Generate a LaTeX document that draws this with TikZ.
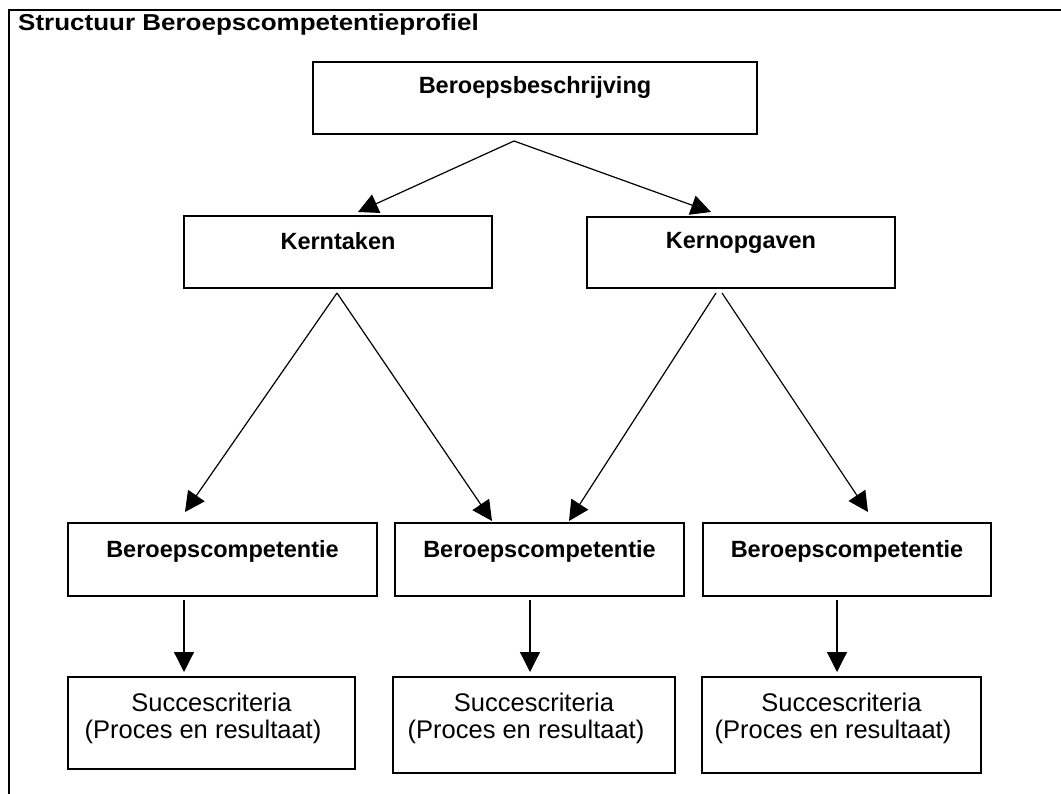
\documentclass[tikz,border=0pt]{standalone}
\usepackage{fontspec}
\setmainfont{Liberation Sans}
\usetikzlibrary{arrows.meta}
\begin{document}
\begin{tikzpicture}[x=1pt,y=-1pt,
  box/.style={draw=black, line width=1.4pt, inner sep=0pt, rectangle},
  lab/.style={anchor=base, inner sep=0pt, font=\fontsize{23.5}{28}\selectfont\bfseries},
  reg/.style={anchor=base, inner sep=0pt, font=\fontsize{25.5}{30}\selectfont},
  conn/.style={draw=black, line width=1.2pt, -{Triangle[length=20pt,width=20pt]}},
  frameline/.style={draw=black, line width=1.6pt}
]
\useasboundingbox (0,0) rectangle (1061,794);
% frame
\coordinate (ftl) at (9,10);
\coordinate (ftr) at (1061,10);
\coordinate (fbl) at (9,794);
\draw[frameline] (ftr) -- (ftl) -- (fbl);
\node[anchor=base west, inner sep=0pt, font=\fontsize{23}{28}\selectfont\bfseries] (title) at (18,31) {\scalebox{1.13}[1]{Structuur Beroepscompetentieprofiel}};

% top box
\node[box, minimum width=444pt, minimum height=72pt] (bb) at (535,98) {};
\node[lab] (bbt) at (535,94) {Beroepsbeschrijving};

% second row
\node[box, minimum width=308pt, minimum height=72pt] (kt) at (338,252) {};
\node[lab] (ktt) at (338,250) {Kerntaken};
\node[box, minimum width=308pt, minimum height=71pt] (ko) at (741,252.5) {};
\node[lab] (kot) at (741,249) {Kernopgaven};

% third row
\node[box, minimum width=309pt, minimum height=73pt] (bc1) at (222.5,559.5) {};
\node[lab] (bc1t) at (222.5,557) {Beroepscompetentie};
\node[box, minimum width=289pt, minimum height=73pt] (bc2) at (539.5,559.5) {};
\node[lab] (bc2t) at (539.5,557) {Beroepscompetentie};
\node[box, minimum width=288pt, minimum height=73pt] (bc3) at (847,559.5) {};
\node[lab] (bc3t) at (847,557) {Beroepscompetentie};

% fourth row
\node[box, minimum width=287pt, minimum height=92pt] (sc1) at (211.5,723) {};
\node[reg] (sc1a) at (211.5,711) {Succescriteria};
\node[reg] (sc1b) at (203,738) {(Proces en resultaat)};
\node[box, minimum width=282pt, minimum height=96pt] (sc2) at (534,725) {};
\node[reg] (sc2a) at (534,711) {Succescriteria};
\node[reg] (sc2b) at (526,738) {(Proces en resultaat)};
\node[box, minimum width=279pt, minimum height=96pt] (sc3) at (841.5,725) {};
\node[reg] (sc3a) at (841.5,711) {Succescriteria};
\node[reg] (sc3b) at (833,738) {(Proces en resultaat)};

% connector end points
\coordinate (bbo) at (514,141);
\coordinate (kti) at (358,212);
\coordinate (koi) at (711,212);
\coordinate (kto) at (337,293);
\coordinate (bc1i) at (185,512);
\coordinate (bc2i) at (492,521);
\coordinate (kol) at (716,293);
\coordinate (kor) at (722,293);
\coordinate (bc2j) at (569,521);
\coordinate (bc3i) at (868,512);
\coordinate (bc1o) at (184,600);
\coordinate (sc1i) at (184,672);
\coordinate (bc2o) at (530,600);
\coordinate (sc2i) at (530,672);
\coordinate (bc3o) at (837,600);
\coordinate (sc3i) at (837,672);

\draw[conn] (bbo) -- (kti);
\draw[conn] (bbo) -- (koi);
\draw[conn] (kto) -- (bc1i);
\draw[conn] (kto) -- (bc2i);
\draw[conn] (kol) -- (bc2j);
\draw[conn] (kor) -- (bc3i);
\draw[conn] (bc1o) -- (sc1i);
\draw[conn] (bc2o) -- (sc2i);
\draw[conn] (bc3o) -- (sc3i);
\end{tikzpicture}
\end{document}
